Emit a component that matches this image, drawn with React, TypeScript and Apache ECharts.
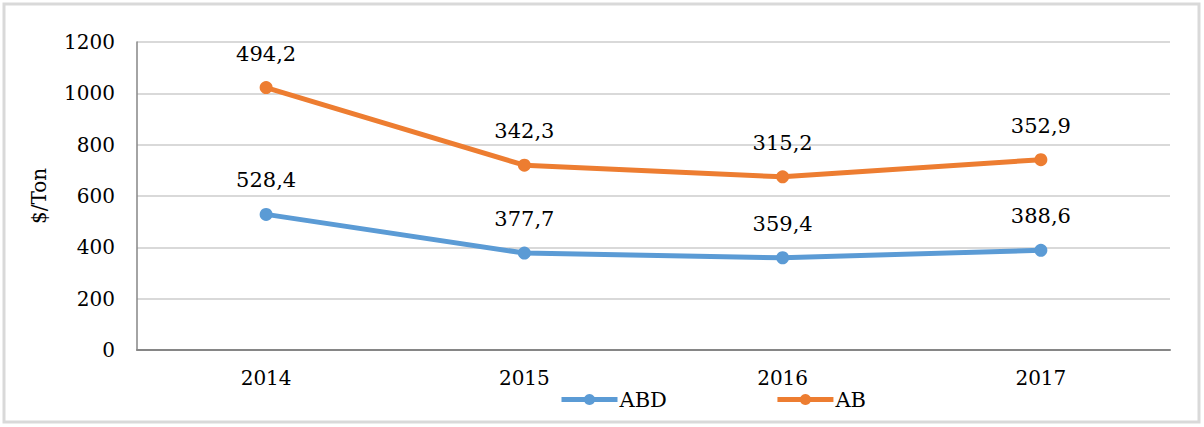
import React, { useEffect, useRef } from "react";
import * as echarts from "echarts";

const categories = ["2014", "2015", "2016", "2017"];
const abd = [528.4, 377.7, 359.4, 388.6];
const ab = [494.2, 342.3, 315.2, 352.9];
const yTicks = { min: 0, max: 1200, interval: 200 };

const fmt = (p: any) => String(p.value).replace(".", ",");
const font = "DejaVu Serif";

export default function App() {
  const ref = useRef<HTMLDivElement>(null);
  useEffect(() => {
    const chart = echarts.init(ref.current!, null, { renderer: "svg" });
    chart.setOption({
      animation: false,
      backgroundColor: "#ffffff",
      textStyle: { fontFamily: font },
      graphic: [
        {
          type: "rect",
          shape: { x: 4, y: 4, width: 1195, height: 418 },
          style: { fill: "none", stroke: "#d9d9d9", lineWidth: 3 },
          silent: true,
        },
      ],
      grid: { left: 137, right: 34, top: 42, bottom: 77 },
      legend: {
        bottom: 12,
        left: 554,
        itemWidth: 56,
        itemHeight: 14,
        itemGap: 108,
        lineStyle: { width: 5 },
        textStyle: { fontFamily: font, fontSize: 21, color: "#000", padding: [0, 0, 0, -3] },
        data: ["ABD", "AB"],
      },
      xAxis: {
        type: "category",
        data: categories,
        axisLine: { lineStyle: { color: "#868686", width: 2 } },
        axisTick: { show: false },
        axisLabel: { fontFamily: font, fontSize: 20, color: "#000", margin: 18 },
      },
      yAxis: {
        type: "value",
        min: yTicks.min,
        max: yTicks.max,
        interval: yTicks.interval,
        name: "$/Ton",
        nameLocation: "middle",
        nameGap: 88,
        nameTextStyle: { fontFamily: font, fontSize: 20, color: "#000" },
        axisLine: { show: true, lineStyle: { color: "#868686", width: 1.5 } },
        axisTick: { show: false },
        axisLabel: { fontFamily: font, fontSize: 20, color: "#000", margin: 22, formatter: (v: number) => String(v) },
        splitLine: { lineStyle: { color: "#d9d9d9", width: 2 } },
      },
      series: [
        {
          name: "ABD", type: "line", stack: "total", data: abd, symbol: "circle", symbolSize: 13,
          itemStyle: { color: "#5b9bd5" }, lineStyle: { color: "#5b9bd5", width: 5 },
          label: { show: true, position: "top", distance: 17, formatter: fmt, fontFamily: font, fontSize: 21, color: "#000" },
        },
        {
          name: "AB", type: "line", stack: "total", data: ab, symbol: "circle", symbolSize: 13,
          itemStyle: { color: "#ed7d31" }, lineStyle: { color: "#ed7d31", width: 5 },
          label: { show: true, position: "top", distance: 17, formatter: fmt, fontFamily: font, fontSize: 21, color: "#000" },
        },
      ],
    });
    return () => chart.dispose();
  }, []);
  return <div ref={ref} style={{ width: 1204, height: 427, position: "absolute", left: 0, top: 0 }} />;
}
